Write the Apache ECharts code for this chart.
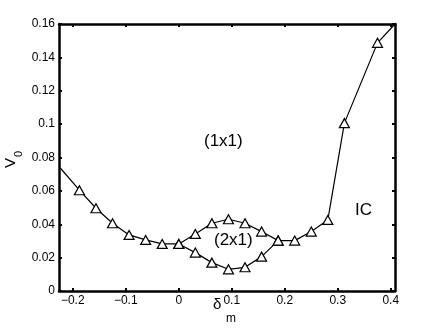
<!DOCTYPE html>
<html>
<head>
<meta charset="utf-8">
<script src="https://cdn.jsdelivr.net/npm/echarts@6/dist/echarts.min.js"></script>
<style>
  html, body { margin: 0; padding: 0; background: #fff; }
  #chart { width: 436px; height: 328px; }
</style>
</head>
<body>
<div id="chart"></div>
<script>
// main curve: left branch, upper (2x1) boundary, then IC boundary
const xMain = [-0.226, -0.1875, -0.15625, -0.125, -0.09375, -0.0625, -0.03125, 0,
  0.03125, 0.0625, 0.09375, 0.125, 0.15625, 0.1875, 0.21875, 0.25, 0.28125, 0.3125, 0.375, 0.408]
const yMain = [0.0746, 0.0604, 0.0496, 0.0406, 0.0336, 0.0306, 0.0282, 0.0282,
  0.0342, 0.0406, 0.0430, 0.0406, 0.0356, 0.0302, 0.0302, 0.0356, 0.0426, 0.1006, 0.1487, 0.16]
// lower (2x1) boundary
const xLower = [0, 0.03125, 0.0625, 0.09375, 0.125, 0.15625, 0.1875]
const yLower = [0.0282, 0.023, 0.017, 0.013, 0.0142, 0.0206, 0.0302]
const xTicks = [-0.2, -0.1, 0, 0.1, 0.2, 0.3, 0.4]
const yTicks = [0, 0.02, 0.04, 0.06, 0.08, 0.1, 0.12, 0.14, 0.16]

const font = 'Liberation Sans, Arial, Helvetica, sans-serif'
const xMin = -0.226, xMax = 0.408

function pts(xs, ys, endsBare) {
  return xs.map((x, i) => {
    let p = { value: [x, ys[i]] }
    if (endsBare && (i === 0 || i === xs.length - 1)) p.symbol = 'none'
    return p
  })
}

function fmt(v) {
  let s = String(Math.round(v * 100) / 100)
  return s.replace('-', '\u2212')
}

const chart = echarts.init(document.getElementById('chart'), null, { renderer: 'canvas' })

const tickX = { show: true, inside: true, length: 3, customValues: xTicks, lineStyle: { color: '#000', width: 2 } }
const tickY = { show: true, inside: true, length: 3, customValues: yTicks, lineStyle: { color: '#000', width: 2 } }
const axLine = { show: true, onZero: false, lineStyle: { color: '#000', width: 2.5 } }

const lineSeries = (data) => ({
  type: 'line',
  data: data,
  symbol: 'triangle',
  symbolSize: [10, 9],
  showAllSymbol: true,
  lineStyle: { color: '#000', width: 1.2 },
  itemStyle: { color: '#fff', borderColor: '#000', borderWidth: 1.2 },
  emphasis: { disabled: true },
  animation: false,
  z: 3
})

chart.setOption({
  animation: false,
  grid: { left: 59, right: 41, top: 24, bottom: 37, show: false },
  xAxis: [
    {
      type: 'value', min: xMin, max: xMax, position: 'bottom',
      axisLine: axLine, axisTick: tickX, splitLine: { show: false },
      axisLabel: { customValues: xTicks, formatter: fmt, color: '#000', fontFamily: font, fontSize: 12, margin: 4 }
    },
    {
      type: 'value', min: xMin, max: xMax, position: 'top',
      axisLine: axLine, axisTick: tickX, splitLine: { show: false },
      axisLabel: { show: false }
    }
  ],
  yAxis: [
    {
      type: 'value', min: 0, max: 0.16, position: 'left',
      axisLine: axLine, axisTick: tickY, splitLine: { show: false },
      axisLabel: { customValues: yTicks, formatter: fmt, color: '#000', fontFamily: font, fontSize: 12, margin: 4 }
    },
    {
      type: 'value', min: 0, max: 0.16, position: 'right',
      axisLine: axLine, axisTick: tickY, splitLine: { show: false },
      axisLabel: { show: false }
    }
  ],
  series: [
    lineSeries(pts(xMain, yMain, true)),
    lineSeries(pts(xLower, yLower, false))
  ],
  graphic: [
    { type: 'text', left: 204, top: 133, style: { text: '(1x1)', font: '17px ' + font, fill: '#000' } },
    { type: 'text', left: 214, top: 232, style: { text: '(2x1)', font: '17px ' + font, fill: '#000' } },
    { type: 'text', left: 355, top: 202, style: { text: 'IC', font: '17px ' + font, fill: '#000' } },
    { type: 'text', left: 213, top: 297, style: { text: '\u03b4', font: '15px ' + font, fill: '#000' } },
    { type: 'text', left: 226, top: 313, style: { text: 'm', font: '12px ' + font, fill: '#000' } },
    { type: 'text', x: 3, y: 168, rotation: Math.PI / 2, style: { text: 'V', font: '15px ' + font, fill: '#000' } },
    { type: 'text', x: 13, y: 157, rotation: Math.PI / 2, style: { text: '0', font: '11px ' + font, fill: '#000' } }
  ]
})
</script>
</body>
</html>
